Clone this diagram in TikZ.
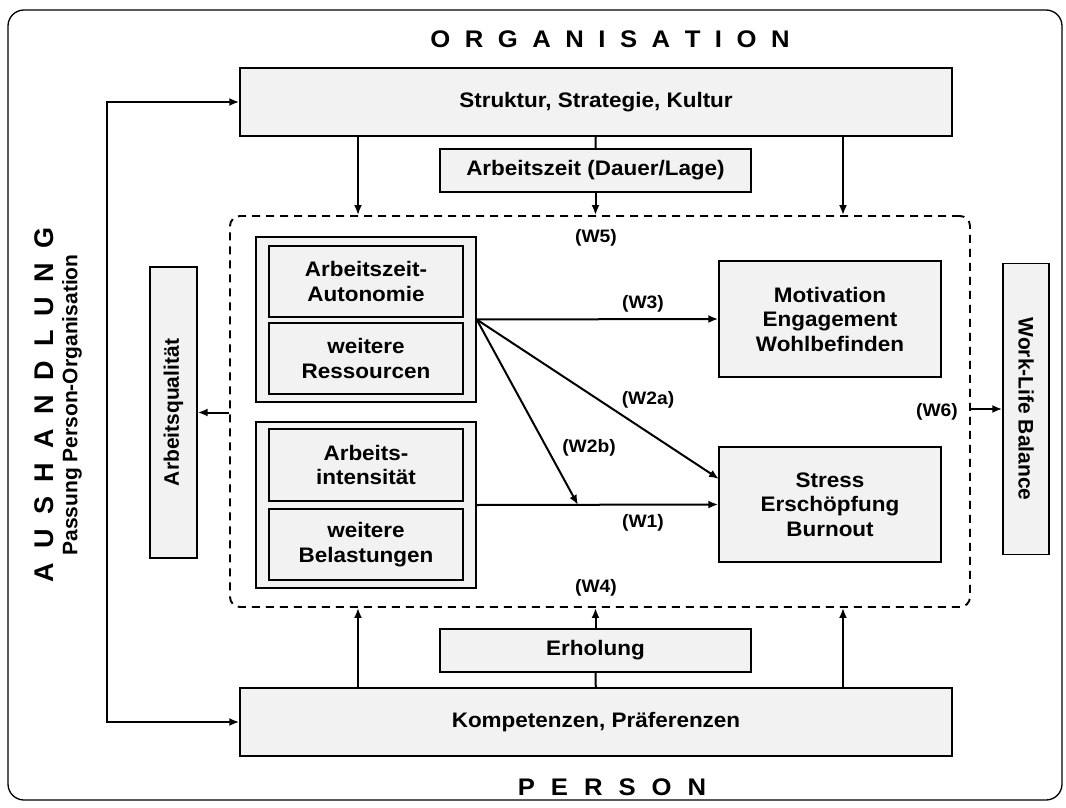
\documentclass[tikz,border=0pt]{standalone}
\usepackage{fontspec}
\setmainfont{Liberation Sans}[FakeStretch=1.07]
\newfontfamily\rotfont{Liberation Sans}
\usetikzlibrary{arrows.meta}
\definecolor{boxgray}{HTML}{F2F2F2}
\newcommand{\sgapA}{\hskip 14.5pt}
\newcommand{\sgapB}{\hskip 16pt}
\newcommand{\sgapC}{\hskip 14.4pt}
\begin{document}
\begin{tikzpicture}[x=1pt,y=-1pt,
  box/.style={draw=black, line width=1.4pt, fill=boxgray, inner sep=0pt, align=center,
    font=\bfseries\fontsize{21}{24.5}\selectfont},
  rbox/.style={box, font=\rotfont\bfseries\fontsize{21}{24.5}\selectfont},
  lbl/.style={inner sep=0pt, font=\bfseries\fontsize{18}{20}\selectfont},
  title/.style={inner sep=0pt, font=\bfseries\fontsize{24}{26}\selectfont},
  arr/.style={line width=2pt, -{Latex[length=10pt,width=8pt]}},
  plain/.style={line width=2pt},
  core/.style={draw=black, line width=1.9pt, dash pattern=on 8pt off 6pt, rounded corners=10pt,
    inner sep=0pt}
]
\fill[white] (0,0) rectangle (1066,808);
\useasboundingbox (0,0) rectangle (1066,808);

% outer frame
\node[draw=black, line width=1.3pt, rounded corners=16pt, minimum width=1054pt, minimum height=790pt, inner sep=0pt] (frame) at (535,405) {};

% titles
\node[title, anchor=base] (org) at (610,48) {O\sgapA R\sgapA G\sgapA A\sgapA N\sgapA I\sgapA S\sgapA A\sgapA T\sgapA I\sgapA O\sgapA N};
\node[title, anchor=base] (pers) at (612,795) {P\sgapB E\sgapB R\sgapB S\sgapB O\sgapB N};
\node[inner sep=0pt, rotate=90, font=\rotfont\bfseries\fontsize{27}{29}\selectfont] (aush) at (44,405) {A\sgapC U\sgapC S\sgapC H\sgapC A\sgapC N\sgapC D\sgapC L\sgapC U\sgapC N\sgapC G};
\node[inner sep=0pt, rotate=90, font=\rotfont\bfseries\fontsize{21}{23}\selectfont] (pass) at (72,405) {Passung Person-Organisation};

% top and bottom boxes
\node[box, minimum width=712pt, minimum height=68pt] (struktur) at (596,102) {Struktur, Strategie, Kultur};
\node[box, minimum width=311pt, minimum height=43pt] (arbzeit) at (595.5,170.5) {Arbeitszeit (Dauer/Lage)};
\node[box, minimum width=311pt, minimum height=43pt] (erh) at (595.5,650.5) {Erholung};
\node[box, minimum width=712pt, minimum height=68pt] (komp) at (596,722) {Kompetenzen, Präferenzen};

% core dashed area
\node[core, minimum width=740pt, minimum height=391pt] (core) at (600,411.5) {};

% groups
\node[box, minimum width=220pt, minimum height=165pt] (g1) at (366,319.5) {};
\node[box, minimum width=194pt, minimum height=71pt] (aza) at (366,281.5) {Arbeitszeit-\\Autonomie};
\node[box, minimum width=194pt, minimum height=71pt] (wr) at (366,358.5) {weitere\\Ressourcen};
\node[box, minimum width=220pt, minimum height=166pt] (g2) at (366,505) {};
\node[box, minimum width=194pt, minimum height=72pt] (ai) at (366,465) {Arbeits-\\intensität};
\node[box, minimum width=194pt, minimum height=71pt] (wb) at (366,544.5) {weitere\\Belastungen};

% outcomes
\node[box, minimum width=222pt, minimum height=116pt] (mot) at (830,319) {Motivation\\Engagement\\Wohlbefinden};
\node[box, minimum width=222pt, minimum height=115pt] (str) at (830,504.5) {Stress\\Erschöpfung\\Burnout};

% side boxes
\node[rbox, rotate=90, minimum width=291pt, minimum height=47pt] (aq) at (173.5,412.5) {Arbeitsqualität};
\node[rbox, rotate=-90, minimum width=291pt, minimum height=46pt] (wlb) at (1026,409) {Work-Life Balance};

% helper coordinates
\coordinate (xl) at (358,0);
\coordinate (xr) at (843,0);
\coordinate (lx) at (107,0);
\coordinate (p2a) at (719,479);
\coordinate (p2b) at (578,0);

% vertical connectors
\draw[arr] (xl |- struktur.south) -- (xl |- core.north);
\draw[arr] (xr |- struktur.south) -- (xr |- core.north);
\draw[plain] (struktur) -- (arbzeit);
\draw[arr] (arbzeit.south) -- (arbzeit.south |- core.north);
\draw[arr] (xl |- komp.north) -- (xl |- core.south);
\draw[arr] (xr |- komp.north) -- (xr |- core.south);
\draw[plain] (komp) -- (erh);
\draw[arr] (erh.north) -- (erh.north |- core.south);

% negotiation loop
\draw[line width=2.2pt, {Latex[length=10pt,width=8pt]}-{Latex[length=10pt,width=8pt]}]
  (struktur.west) -- (lx |- struktur.west) -- (lx |- komp.west) -- (komp.west);

% side arrows
\draw[arr] (core.west |- aq.center) -- (aq.south);
\draw[arr] (core.east |- wlb.center) -- (wlb.south);

% inner effects
\draw[arr] (g1.east) -- (mot.west);
\draw[arr] (g2.east) -- (str.west);
\draw[arr] (g1.east) -- (p2a);
\draw[arr] (g1.east) -- (p2b |- g2.east);

% labels
\node[lbl] (w5) at (596,238) {(W5)};
\node[lbl] (w3) at (643,304) {(W3)};
\node[lbl] (w2a) at (648,400) {(W2a)};
\node[lbl] (w2b) at (589,448) {(W2b)};
\node[lbl] (w1) at (643,523) {(W1)};
\node[lbl] (w4) at (596,588) {(W4)};
\node[lbl] (w6) at (937,412) {(W6)};
\end{tikzpicture}
\end{document}
